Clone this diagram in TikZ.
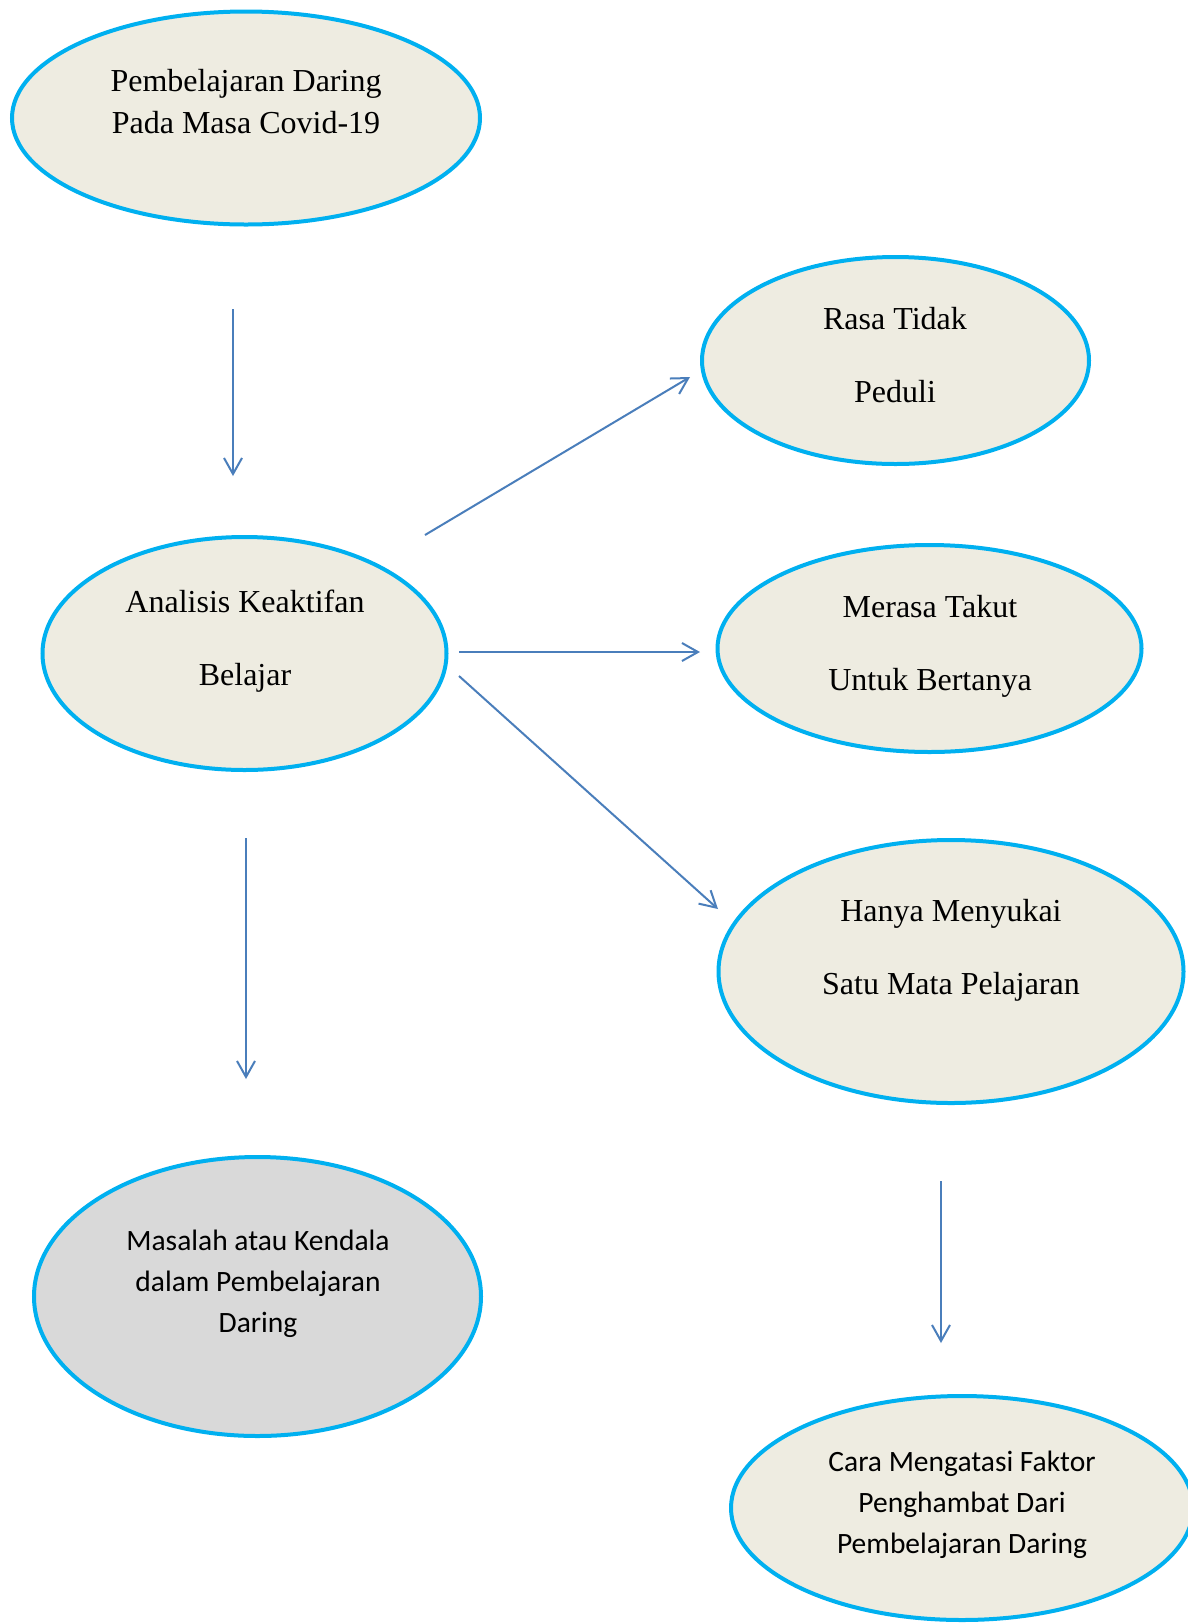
\documentclass[tikz,border=0pt]{standalone}
\usepackage{fontspec}
\setmainfont{Liberation Serif}
\newfontfamily\calfont{Carlito}
\usetikzlibrary{shapes.geometric,arrows.meta}
\definecolor{ringblue}{HTML}{00B0F0}
\definecolor{tanfill}{HTML}{EEECE1}
\definecolor{greyfill}{HTML}{D9D9D9}
\definecolor{arrowblue}{HTML}{4A7EBB}
\begin{document}
\begin{tikzpicture}[x=1pt,y=-1pt,
  oval/.style={ellipse, draw=ringblue, line width=4pt, fill=tanfill, inner sep=0pt},
  serifA/.style={font=\fontsize{32}{42}\selectfont, align=center, inner sep=0pt},
  serifB/.style={font=\fontsize{32}{73}\selectfont, align=center, inner sep=0pt},
  sansC/.style={font=\calfont\fontsize{29.5}{41}\selectfont, align=center, inner sep=0pt},
  link/.style={draw=arrowblue, line width=2pt, -{Straight Barb[length=16pt,width=18pt]}}
]
\useasboundingbox (0,0) rectangle (1188,1623);
\clip (0,0) rectangle (1188,1623);
\fill[white] (0,0) rectangle (1188,1623);

% ellipses
\node[oval, minimum width=468pt, minimum height=213pt] (e1) at (246,118) {};
\node[oval, minimum width=387pt, minimum height=207pt] (e2) at (895.5,360.5) {};
\node[oval, minimum width=424pt, minimum height=207pt] (e3) at (929.5,648.5) {};
\node[oval, minimum width=404pt, minimum height=233pt] (e4) at (244.5,653.5) {};
\node[oval, minimum width=465pt, minimum height=263pt] (e5) at (951,971.5) {};
\node[oval, fill=greyfill, minimum width=447pt, minimum height=279pt] (e6) at (257.5,1296.5) {};
\node[oval, minimum width=462pt, minimum height=224pt] (e7) at (962,1508) {};

% texts
\node[serifA] (t1) at (246,102) {Pembelajaran Daring\\Pada Masa Covid-19};
\node[serifB] (t2) at (895,355) {Rasa Tidak\\Peduli};
\node[serifB] (t3) at (930,646.5) {Merasa Takut\\Untuk Bertanya};
\node[serifB] (t4) at (245,641) {Analisis Keaktifan\\Belajar};
\node[serifB] (t5) at (951,950.5) {Hanya Menyukai\\Satu Mata Pelajaran};
\node[sansC] (t6) at (258,1284) {Masalah atau Kendala\\dalam Pembelajaran\\Daring};
\node[sansC] (t7) at (962,1504.5) {Cara Mengatasi Faktor\\Penghambat Dari\\Pembelajaran Daring};

% connector ends
\coordinate (a1s) at (233,309);  \coordinate (a1e) at (233,476);
\coordinate (a2s) at (425,535);  \coordinate (a2e) at (690,377);
\coordinate (a3s) at (459,652);  \coordinate (a3e) at (700,652);
\coordinate (a4s) at (459,676);  \coordinate (a4e) at (718,909);
\coordinate (a5s) at (246,838);  \coordinate (a5e) at (246,1079);
\coordinate (a6s) at (941,1181); \coordinate (a6e) at (941,1343);

\draw[link] (a1s) -- (a1e);
\draw[link] (a2s) -- (a2e);
\draw[link] (a3s) -- (a3e);
\draw[link] (a4s) -- (a4e);
\draw[link] (a5s) -- (a5e);
\draw[link] (a6s) -- (a6e);
\end{tikzpicture}
\end{document}
